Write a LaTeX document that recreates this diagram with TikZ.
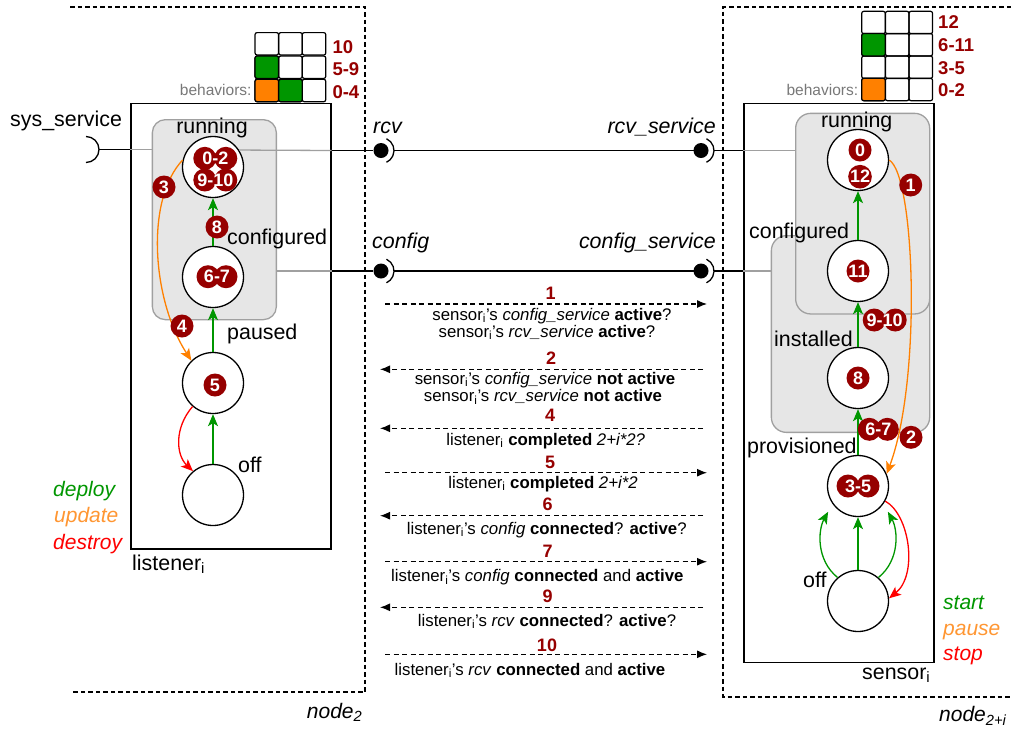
\documentclass[tikz,border=0pt]{standalone}
\usepackage{fontspec}
\setmainfont{Liberation Sans}
\usetikzlibrary{arrows.meta}
\definecolor{dred}{RGB}{150,0,0}
\definecolor{sgreen}{RGB}{0,150,0}
\definecolor{sorange}{RGB}{255,128,0}
\definecolor{lorange}{RGB}{255,150,50}
\definecolor{sred}{RGB}{255,0,0}
\definecolor{rgray}{RGB}{230,230,230}
\definecolor{bgray}{RGB}{160,160,160}
\definecolor{tgray}{RGB}{120,120,120}
\newcommand\fs[1]{\fontsize{#1}{#1}\selectfont}
\newcommand\dbadge[5]{%
  \fill[dred] (#2-#4,#3) circle[radius=11.5pt] (#2+#4,#3) circle[radius=11.5pt];
  \node[btxt] (#1) at (#2,#3) {#5};}
\begin{document}
\begin{tikzpicture}[x=1pt,y=-1pt,
  state/.style={circle,draw,line width=1.3pt,fill=white,minimum size=61pt,inner sep=0pt},
  lbl/.style={font=\fs{21.4},inner sep=0pt},
  ilbl/.style={font=\fs{21.4}\itshape,inner sep=0pt},
  badge/.style={circle,fill=dred,minimum size=23pt,inner sep=0pt,text=white,font=\fs{18}\bfseries},
  btxt/.style={inner sep=0pt,text=white,font=\fs{18}\bfseries},
  msg/.style={font=\fs{16.8},inner sep=0pt,anchor=base},
  num/.style={text=dred,font=\fs{18}\bfseries,inner sep=0pt,anchor=base},
  grect/.style={draw=bgray,fill=rgray,rounded corners=13pt,line width=1.3pt,inner sep=0pt,anchor=north west},
  comp/.style={draw,line width=1.5pt,inner sep=0pt,anchor=north west},
  nodebox/.style={dash pattern=on 4.5pt off 3pt,line width=1.2pt},
  trans/.style={line width=1.3pt,-{Stealth[length=12pt,width=10pt,inset=3pt]}},
  msgarrow/.style={dash pattern=on 5pt off 3.5pt,line width=1.1pt,-{Latex[length=10pt,width=8pt]}},
  cell/.style={draw,line width=1.2pt,rounded corners=2pt,minimum width=23.5pt,minimum height=22.4pt,inner sep=0pt},
  ball/.style={circle,fill=black,minimum size=15pt,inner sep=0pt},
  tab/.style={text=dred,font=\fs{18.5}\bfseries,inner sep=0pt,anchor=base west},
  beh/.style={text=tgray,font=\fs{15.5},inner sep=0pt,anchor=base east},
  leg/.style={font=\fs{21}\itshape,inner sep=0pt,anchor=base west},
  wire/.style={line width=1.3pt},
  gwire/.style={line width=1.3pt,draw=bgray},
]
\useasboundingbox (0,0) rectangle (1011,732);

% deployment nodes
\draw[nodebox] (70,7) -- (365,7) -- (365,692) -- (70,692);
\draw[nodebox] (1011,7) -- (723,7) -- (723,697) -- (1011,697);
\node[leg] (n2) at (306.7,718) {node\textsubscript{2}};
\node[leg] (n2i) at (939,721.7) {node\textsubscript{2+i}};

% components
\node[comp,minimum width=200pt,minimum height=445.6pt] (listener) at (130,102.7) {};
\node[comp,minimum width=190pt,minimum height=559pt] (sensor) at (743,102.7) {};

% gray groups
\node[grect,minimum width=124pt,minimum height=200pt] (grL) at (151.7,119) {};
\node[grect,minimum width=158.3pt,minimum height=196.7pt,rounded corners=15pt] (grCfgR) at (770.7,235) {};
\node[grect,minimum width=134pt,minimum height=200.6pt,rounded corners=15pt] (grRunR) at (795,112.7) {};

% behavior tables
\foreach \c/\x in {1/266.8,2/290.5,3/314}{
  \foreach \r/\y in {1/43.8,2/67.2,3/90.5}{
    \node[cell] (tL\r\c) at (\x,\y) {};}}
\node[cell,fill=sgreen] at (tL21) {};
\node[cell,fill=sorange] at (tL31) {};
\node[cell,fill=sgreen] at (tL32) {};
\node[tab] (tl1) at (332.3,53.3) {10};
\node[tab] (tl2) at (332.3,75) {5-9};
\node[tab] (tl3) at (332.3,98.3) {0-4};
\node[beh] (bL) at (251.7,95) {behaviors:};

\foreach \c/\x in {1/873.5,2/897.2,3/920.8}{
  \foreach \r/\y in {1/22.5,2/44.7,3/67.2,4/89.5}{
    \node[cell] (tR\r\c) at (\x,\y) {};}}
\node[cell,fill=sgreen] at (tR21) {};
\node[cell,fill=sorange] at (tR41) {};
\node[tab] (tr1) at (938,28.3) {12};
\node[tab] (tr2) at (938,51.7) {6-11};
\node[tab] (tr3) at (938,74) {3-5};
\node[tab] (tr4) at (938,96.7) {0-2};
\node[beh] (bR) at (858.3,95) {behaviors:};

% states
\node[state] (runL) at (213,167) {};
\node[state] (cfgL) at (213,277) {};
\node[state] (pauL) at (213,383) {};
\node[state] (offL) at (213,495) {};
\node[state] (runR) at (858,160) {};
\node[state] (cfgR) at (858,271) {};
\node[state] (insR) at (858,378) {};
\node[state] (proR) at (858,486) {};
\node[state] (offR) at (858,601) {};

% ports
\coordinate (sysS) at (86,149.5);
\coordinate (sysE) at (99,149.5);
\draw[wire] (sysS) ++(0pt,-13pt) arc[start angle=-90,end angle=90,radius=13pt];
\draw[wire] (sysE) -- (listener.west |- sysS);
\draw[gwire] (listener.west |- sysS) -- (grL.west |- sysS);

\node[ball] (rcvL) at (381,150.5) {};
\node[ball] (rcvR) at (701,150.5) {};
\node[ball] (cfgpL) at (381,271) {};
\node[ball] (cfgpR) at (701,271) {};
\coordinate (rcvLa) at (394,150.5);
\coordinate (rcvRa) at (714,150.5);
\coordinate (cfgLa) at (394,271);
\coordinate (cfgRa) at (714,271);
\foreach \p in {rcvL,rcvR,cfgpL,cfgpR}{
  \draw[wire] (\p.center) ++(65:13pt) arc[start angle=65,end angle=-65,radius=13pt];}
\draw[gwire] (runL.33) -- (listener.east |- rcvL);
\draw[wire] (listener.east |- rcvL) -- (rcvL);
\draw[wire] (rcvLa) -- (rcvR.center);
\draw[wire] (rcvRa) -- (sensor.west |- rcvRa);
\draw[gwire] (sensor.west |- rcvRa) -- (grRunR.west |- rcvRa);
\draw[gwire] (grL.east |- cfgpL) -- (listener.east |- cfgpL);
\draw[wire] (listener.east |- cfgpL) -- (cfgpL);
\draw[wire] (cfgLa) -- (cfgpR.center);
\draw[wire] (cfgRa) -- (sensor.west |- cfgRa);
\draw[gwire] (sensor.west |- cfgRa) -- (grCfgR.west |- cfgRa);

% transitions left
\draw[trans,sgreen] (offL) -- (pauL);
\draw[trans,sgreen] (pauL) -- (cfgL);
\draw[trans,sgreen] (cfgL) -- (runL);
\draw[trans,sorange] (runL.167) .. controls (145,200) and (152,300) .. (pauL.134);
\draw[trans,sred] (pauL.229) .. controls (174,428) and (176,455) .. (offL.130);

% transitions right
\draw[trans,sgreen] (insR) -- (cfgR);
\draw[trans,sgreen] (cfgR) -- (runR);
\draw[trans,sgreen] (proR) -- (insR);
\draw[trans,sgreen] (offR) -- (proR);
\draw[trans,sgreen,shorten >=9pt] (offR.131) .. controls (816,560) and (818,530) .. (proR.215);
\draw[trans,sgreen,shorten >=9pt] (offR.49) .. controls (900,560) and (898,530) .. (proR.-35);
\draw[trans,sorange] (runR.0) .. controls (915,175) and (922,380) .. (proR.23);
\draw[trans,sred] (proR.-29) .. controls (910,515) and (918,575) .. (offR.5);

% badges left
\dbadge{b02}{215.3}{158.3}{10.5}{0-2}
\dbadge{b910}{215.3}{180}{10.5}{9-10}
\node[badge] (b3) at (164,187) {3};
\node[badge] (b8) at (217,227) {8};
\dbadge{b67}{217}{276.7}{9}{6-7}
\node[badge] (b4) at (182,326) {4};
\node[badge] (b5) at (215,385) {5};

% badges right
\node[badge] (r0) at (860,150) {0};
\node[badge] (r12) at (860,176.7) {12};
\node[badge] (r11) at (858,271) {11};
\node[badge] (r1) at (910.7,185) {1};
\dbadge{r910}{884.7}{320}{10.5}{9-10}
\node[badge] (r8) at (858,378) {8};
\dbadge{r67}{878.3}{429.3}{9}{6-7}
\node[badge] (r2) at (911,437.3) {2};
\dbadge{r35}{858}{486}{10}{3-5}

% state labels
\node[lbl,anchor=base] (lrunL) at (212,133) {running};
\node[lbl,anchor=base west] (lcfgL) at (227,244) {configured};
\node[lbl,anchor=base west] (lpauL) at (227,339) {paused};
\node[lbl,anchor=base west] (loffL) at (238,472) {off};
\node[lbl,anchor=base west] (llis) at (132,570) {listener\textsubscript{i}};
\node[lbl,anchor=base west] (lsys) at (10,126.7) {sys\_service};
\node[lbl,anchor=base] (lrunR) at (856.7,127.7) {running};
\node[lbl,anchor=base west] (lcfgR) at (749,238) {configured};
\node[lbl,anchor=base west] (linsR) at (774,346.7) {installed};
\node[lbl,anchor=base west] (lproR) at (747,453) {provisioned};
\node[lbl,anchor=base west] (loffR) at (803,587.7) {off};
\node[lbl,anchor=base west] (lsen) at (862,679) {sensor\textsubscript{i}};

% port labels
\node[ilbl,anchor=base west] (lrcv) at (373,133) {rcv};
\node[ilbl,anchor=base east] (lrcvs) at (716,133) {rcv\_service};
\node[ilbl,anchor=base west] (lcfg) at (372,248) {config};
\node[ilbl,anchor=base east] (lcfgs) at (716,248) {config\_service};

% legends
\node[leg,text=sgreen] (lg1) at (53,496.7) {deploy};
\node[leg,text=lorange] (lg2) at (54,522.7) {update};
\node[leg,text=sred] (lg3) at (53,549) {destroy};
\node[leg,text=sgreen] (rg1) at (943,609) {start};
\node[leg,text=lorange] (rg2) at (943,635) {pause};
\node[leg,text=sred] (rg3) at (943,660.7) {stop};

% messages
\foreach \n/\y in {1/304,5/472.7,7/561.7,10/654.3}{
  \coordinate (ms\n) at (385,\y); \coordinate (me\n) at (707,\y);
  \draw[msgarrow] (ms\n) -- (me\n);}
\foreach \n/\y in {2/369.3,4/428.3,6/515.7,9/607.3}{
  \coordinate (ms\n) at (703,\y); \coordinate (me\n) at (380,\y);
  \draw[msgarrow] (ms\n) -- (me\n);}
\node[num] (k1) at (550.7,299) {1};
\node[num] (k2) at (551,364) {2};
\node[num] (k4) at (550,421.7) {4};
\node[num] (k5) at (550,468.3) {5};
\node[num] (k6) at (547.7,510.7) {6};
\node[num] (k7) at (547.7,557.3) {7};
\node[num] (k9) at (547.7,602.7) {9};
\node[num] (k10) at (547,651) {10};
\node[msg] (m1a) at (552,320) {sensor\textsubscript{i}'s \textit{config\_service} \textbf{active}?};
\node[msg] (m1b) at (547,337.3) {sensor\textsubscript{i}'s \textit{rcv\_service} \textbf{active}?};
\node[msg] (m2a) at (545,384.3) {sensor\textsubscript{i}'s \textit{config\_service} \textbf{not active}};
\node[msg] (m2b) at (543,401.7) {sensor\textsubscript{i}'s \textit{rcv\_service} \textbf{not active}};
\node[msg] (m4) at (545.7,445) {listener\textsubscript{i} \textbf{completed} \textit{2+i*2?}};
\node[msg] (m5) at (543,488.3) {listener\textsubscript{i} \textbf{completed} \textit{2+i*2}};
\node[msg] (m6) at (546.7,534) {listener\textsubscript{i}'s \textit{config} \textbf{connected}? \textbf{active}?};
\node[msg] (m7) at (537.3,581.7) {listener\textsubscript{i}'s \textit{config} \textbf{connected} and \textbf{active}};
\node[msg] (m9) at (547,626) {listener\textsubscript{i}'s \textit{rcv} \textbf{connected}? \textbf{active}?};
\node[msg] (m10) at (530,675) {listener\textsubscript{i}'s \textit{rcv} \textbf{connected} and \textbf{active}};
\end{tikzpicture}
\end{document}
